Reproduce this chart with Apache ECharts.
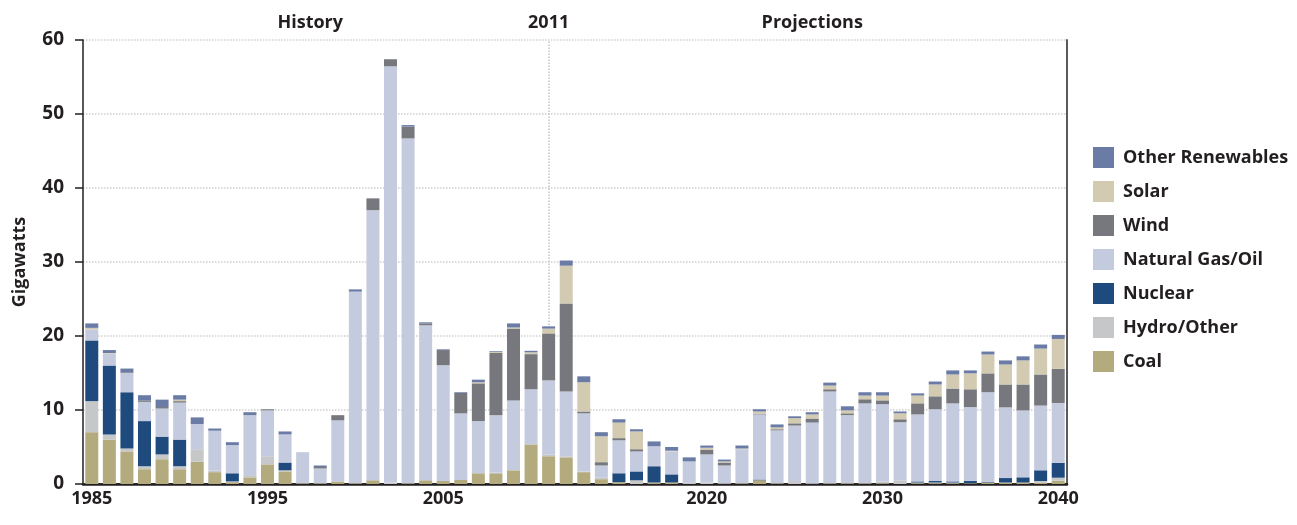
<!DOCTYPE html>
<html>
<head>
<meta charset="utf-8">
<script src="https://cdn.jsdelivr.net/npm/echarts@6/dist/echarts.min.js"></script>
<style>
  html, body { margin: 0; padding: 0; background: #fff; }
  #chart { width: 1297px; height: 525px; }
</style>
</head>
<body>
<div id="chart"></div>
<script>
const years = [
  '1985','1986','1987','1988','1989','1990','1991','1992','1993','1994',
  '1995','1996','1997','1998','1999','2000','2001','2002','2003','2004',
  '2005','2006','2007','2008','2009','2010','2011','2012','2013','2014',
  '2015','2016','2017','2018','2019','2020','2021','2022','2023','2024',
  '2025','2026','2027','2028','2029','2030','2031','2032','2033','2034',
  '2035','2036','2037','2038','2039','2040'
];
const bottomLabels = ['1985', '1995', '2005', '2020', '2030', '2040'];
const bottomTicks = ['1985', '1995', '2005', '2011', '2020', '2030', '2040'];
const topLabels = { '1998': 'History', '2011': '2011', '2026': 'Projections' };

// gigawatts added per year
const coal = [
  7.0, 6.0, 4.4, 2.0, 3.35, 2.0, 3.0, 1.6, 0.25, 0.9,
  2.65, 1.7, 0.1, 0.1, 0.3, 0.1, 0.5, 0, 0.1, 0.5,
  0.4, 0.55, 1.45, 1.45, 1.85, 5.35, 3.75, 3.6, 1.6, 0.65,
  0.25, 0, 0.2, 0.2, 0, 0, 0, 0.1, 0.5, 0.1,
  0, 0, 0.1, 0.1, 0.1, 0.1, 0, 0.1, 0.1, 0.1,
  0.1, 0.2, 0.2, 0.2, 0.2, 0.45
];
const hydro = [
  4.2, 0.7, 0.4, 0.4, 0.65, 0.4, 1.7, 0.2, 0.1, 0.3,
  1.1, 0.15, 0, 0, 0.1, 0, 0, 0.2, 0, 0,
  0, 0, 0, 0.1, 0, 0, 0.2, 0.15, 0.1, 0.2,
  0, 0.5, 0, 0, 0.15, 0.2, 0.1, 0, 0, 0,
  0.4, 0.1, 0, 0, 0, 0.2, 0.5, 0.1, 0.1, 0.1,
  0, 0, 0, 0, 0.2, 0.4
];
const nuclear = [
  8.2, 9.3, 7.6, 6.1, 2.4, 3.6, 0, 0, 1.1, 0,
  0, 1.05, 0, 0, 0, 0, 0, 0, 0, 0,
  0, 0, 0, 0, 0, 0, 0, 0, 0, 0,
  1.2, 1.2, 2.2, 1.1, 0, 0, 0, 0, 0.1, 0,
  0, 0, 0, 0, 0, 0, 0, 0.15, 0.2, 0.15,
  0.3, 0.1, 0.6, 0.7, 1.45, 2.0
];
const gasOil = [
  1.5, 1.6, 2.6, 2.6, 3.8, 5.0, 3.4, 5.4, 3.8, 8.1,
  6.2, 3.8, 4.2, 2.0, 8.2, 25.9, 36.5, 56.25, 46.6, 20.95,
  15.65, 9.0, 7.05, 7.75, 9.45, 7.45, 10.05, 8.75, 7.85, 1.65,
  4.45, 2.7, 2.7, 3.1, 2.9, 3.8, 2.4, 4.6, 8.8, 7.15,
  7.5, 8.2, 12.4, 9.2, 10.8, 10.5, 7.85, 9.05, 9.7, 10.55,
  10.0, 12.1, 9.55, 9.05, 8.75, 8.1
];
const wind = [
  0, 0, 0.1, 0.2, 0.2, 0.2, 0, 0, 0, 0,
  0.15, 0, 0, 0.2, 0.7, 0, 1.6, 0.95, 1.6, 0.25,
  2.05, 2.75, 5.1, 8.4, 9.7, 4.75, 6.35, 11.9, 0.25, 0.45,
  0.3, 0.3, 0, 0, 0, 0.65, 0.4, 0, 0.1, 0.15,
  0.3, 0.55, 0.3, 0.25, 0.55, 0.5, 0.4, 1.5, 1.75, 2.0,
  2.4, 2.55, 3.1, 3.5, 4.2, 4.6
];
const solar = [
  0.2, 0.1, 0, 0, 0, 0.2, 0, 0, 0, 0,
  0, 0, 0, 0, 0, 0, 0, 0, 0, 0,
  0, 0, 0.15, 0.15, 0.15, 0.25, 0.65, 5.1, 3.95, 3.5,
  2.1, 2.4, 0, 0.1, 0, 0.25, 0.15, 0.1, 0.3, 0.25,
  0.7, 0.55, 0.5, 0.4, 0.5, 0.65, 0.8, 1.05, 1.6, 1.9,
  2.15, 2.55, 2.7, 3.25, 3.5, 4.05
];
const otherRen = [
  0.6, 0.4, 0.5, 0.7, 1.0, 0.6, 0.9, 0.3, 0.4, 0.4,
  0, 0.4, 0, 0.2, 0, 0.3, 0, 0, 0.2, 0.15,
  0.1, 0.1, 0.35, 0.1, 0.55, 0.2, 0.3, 0.7, 0.8, 0.55,
  0.45, 0.3, 0.65, 0.5, 0.55, 0.3, 0.25, 0.4, 0.3, 0.4,
  0.25, 0.3, 0.4, 0.55, 0.45, 0.45, 0.25, 0.3, 0.4, 0.55,
  0.4, 0.4, 0.55, 0.55, 0.55, 0.55
];

const ink = '#231f20';
const font = '"Open Sans", Lato, sans-serif';

const layers = [
  { name: 'Coal', data: coal, color: '#b3aa7e' },
  { name: 'Hydro/Other', data: hydro, color: '#c6c7c9' },
  { name: 'Nuclear', data: nuclear, color: '#1f4a7e' },
  { name: 'Natural Gas/Oil', data: gasOil, color: '#c5cbdf' },
  { name: 'Wind', data: wind, color: '#76787d' },
  { name: 'Solar', data: solar, color: '#d3cbb1' },
  { name: 'Other Renewables', data: otherRen, color: '#6a7ba6' }
];

const chart = echarts.init(document.getElementById('chart'), null, { renderer: 'canvas' });

const series = layers.map(l => ({
  name: l.name,
  type: 'bar',
  stack: 'total',
  barWidth: 13,
  z: 3,
  data: l.data,
  itemStyle: { color: l.color },
  emphasis: { disabled: true }
}));

// dotted divider between history and projections, kept behind the bars
series.push({
  name: 'divider',
  type: 'line',
  data: [],
  z: 1,
  silent: true,
  markLine: {
    z: 1,
    silent: true,
    symbol: ['none', 'none'],
    label: { show: false },
    lineStyle: { type: 'dotted', color: '#c4c4c4', width: 1.5 },
    data: [{ xAxis: '2011' }]
  }
});

chart.setOption({
  animation: false,
  backgroundColor: '#fff',
  grid: { left: 83, right: 230, top: 40, bottom: 41 },
  legend: {
    orient: 'vertical',
    left: 1088,
    top: 142,
    icon: 'rect',
    itemWidth: 21,
    itemHeight: 21,
    itemGap: 13,
    selectedMode: false,
    data: layers.map(l => l.name).reverse(),
    textStyle: { color: ink, fontFamily: font, fontWeight: 'bold', fontSize: 18, padding: [0, 0, 0, 4] }
  },
  xAxis: [
    {
      type: 'category',
      position: 'bottom',
      data: years,
      boundaryGap: true,
      axisLine: { lineStyle: { color: ink, width: 2.5 } },
      axisTick: {
        alignWithLabel: true,
        length: 7,
        interval: (idx, val) => bottomTicks.includes(val),
        lineStyle: { color: ink, width: 1.5 }
      },
      axisLabel: {
        interval: (idx, val) => bottomLabels.includes(val),
        color: ink, fontFamily: font, fontWeight: 'bold', fontSize: 18, margin: 6
      },
      splitLine: { show: false }
    },
    {
      type: 'category',
      position: 'top',
      data: years,
      boundaryGap: true,
      axisLine: { lineStyle: { color: ink, width: 1.5 } },
      axisTick: {
        alignWithLabel: true,
        length: 6,
        interval: (idx, val) => val === '2011',
        lineStyle: { color: ink, width: 1.5 }
      },
      axisLabel: {
        interval: (idx, val) => topLabels[val] !== undefined,
        formatter: val => (val === '1998' ? '{h|' + topLabels[val] + '}' : (topLabels[val] || '')),
        rich: { h: { padding: [0, 20, 0, 0], color: ink, fontFamily: font, fontWeight: 'bold', fontSize: 18 } },
        color: ink, fontFamily: font, fontWeight: 'bold', fontSize: 18, margin: 8
      },
      splitLine: { show: false }
    }
  ],
  yAxis: [
    {
      type: 'value',
      min: 0,
      max: 60,
      interval: 10,
      name: 'Gigawatts',
      nameLocation: 'middle',
      nameGap: 54,
      nameRotate: 90,
      nameTextStyle: { color: ink, fontFamily: font, fontWeight: 'bold', fontSize: 18 },
      axisLine: { show: true, lineStyle: { color: ink, width: 1.5 } },
      axisTick: { show: true, length: 8, lineStyle: { color: ink, width: 1.5 } },
      axisLabel: { color: ink, fontFamily: font, fontWeight: 'bold', fontSize: 19, margin: 19 },
      splitLine: { show: true, lineStyle: { type: 'dotted', color: '#cfcfcf', width: 1.5 } }
    },
    {
      type: 'value',
      min: 0,
      max: 60,
      interval: 10,
      position: 'right',
      axisLine: { show: true, lineStyle: { color: '#5a5a5a', width: 2 } },
      axisTick: { show: false },
      axisLabel: { show: false },
      splitLine: { show: false }
    }
  ],
  series: series
});
</script>
</body>
</html>
